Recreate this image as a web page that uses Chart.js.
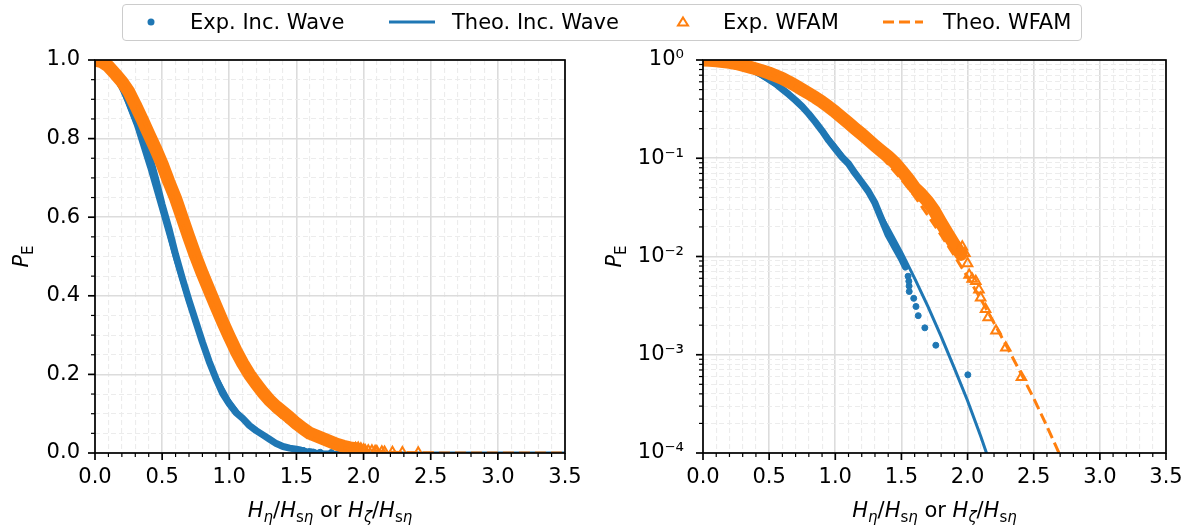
<!DOCTYPE html>
<html>
<head>
<meta charset="utf-8">
<script src="https://cdn.jsdelivr.net/npm/chart.js@4.4.1/dist/chart.umd.min.js"></script>
<style>
  body { margin: 0; background: #fff; width: 1198px; height: 529px; overflow: hidden; position: relative; font-family: 'DejaVu Sans', sans-serif; }
  #cl { position: absolute; left: 0; top: 0; }
  #cr { position: absolute; left: 595px; top: 0; }
  #legend { position: absolute; left: 122px; top: 4px; width: 958px; height: 35px; border: 1px solid #cccccc; border-radius: 4px; background: rgba(255,255,255,0.8); z-index: 2; }
  #legend span { position: absolute; top: 5px; line-height: 24px; font-size: 21px; color: #000; white-space: nowrap; }
  #legend svg { position: absolute; left: 0; top: 0; }
</style>
</head>
<body>
<div id="legend">
  <svg width="958" height="35">
    <circle cx="28" cy="17" r="3.5" fill="#1f77b4"/>
    <line x1="266" y1="17" x2="312" y2="17" stroke="#1f77b4" stroke-width="3"/>
    <polygon points="560,12.5 565,20.5 555,20.5" fill="none" stroke="#ff7f0e" stroke-width="2"/>
    <line x1="760" y1="17" x2="800" y2="17" stroke="#ff7f0e" stroke-width="3" stroke-dasharray="11,5"/>
  </svg>
  <span style="left:67px">Exp. Inc. Wave</span>
  <span style="left:329px">Theo. Inc. Wave</span>
  <span style="left:600px">Exp. WFAM</span>
  <span style="left:820px">Theo. WFAM</span>
</div>
<canvas id="cl" width="595" height="529"></canvas>
<canvas id="cr" width="603" height="529"></canvas>
<script>
// experimental incident wave (dense part) and its isolated tail points
var expIncX = [0, 0.05, 0.1, 0.15, 0.2, 0.25, 0.3, 0.35, 0.4, 0.45, 0.5, 0.55, 0.6, 0.65, 0.7, 0.75, 0.8, 0.85, 0.9, 0.95,
  1.0, 1.05, 1.1, 1.15, 1.2, 1.25, 1.3, 1.35, 1.4, 1.45, 1.5, 1.53];
var expIncP = [1.0, 0.997, 0.985, 0.962, 0.932, 0.895, 0.852, 0.81, 0.762, 0.70, 0.632, 0.572, 0.505, 0.445, 0.388, 0.335, 0.282, 0.233, 0.19, 0.152,
  0.125, 0.103, 0.088, 0.07, 0.057, 0.046, 0.035, 0.024, 0.0165, 0.0125, 0.0095, 0.0078];
var expIncTailX = [1.55, 1.556, 1.558, 1.559, 1.593, 1.61, 1.627, 1.677, 1.76, 2.002];
var expIncTailP = [0.0063, 0.0056, 0.0050, 0.0044, 0.00375, 0.0031, 0.0025, 0.00188, 0.00125, 0.000625];

// experimental WFAM
var expWfamX = [0, 0.05, 0.1, 0.15, 0.2, 0.25, 0.3, 0.35, 0.4, 0.45, 0.5, 0.55, 0.6, 0.65, 0.7, 0.75, 0.8, 0.85, 0.9, 0.95,
  1.0, 1.05, 1.1, 1.15, 1.2, 1.25, 1.3, 1.35, 1.4, 1.45, 1.5, 1.55, 1.6, 1.65, 1.7, 1.75, 1.8, 1.85, 1.9, 1.95];
var expWfamP = [1.0, 0.996, 0.984, 0.965, 0.945, 0.92, 0.886, 0.85, 0.812, 0.775, 0.735, 0.69, 0.648, 0.598, 0.548, 0.50, 0.456, 0.415, 0.374, 0.334,
  0.296, 0.26, 0.228, 0.2, 0.176, 0.154, 0.134, 0.118, 0.104, 0.09, 0.075, 0.062, 0.05, 0.043, 0.036, 0.029, 0.022, 0.017, 0.0132, 0.0105];
var expWfamTailX = [1.94, 1.96, 1.98, 2.0, 2.012, 2.035, 2.062, 2.086, 2.099, 2.136, 2.156, 2.215, 2.289, 2.407];
var expWfamTailP = [0.0118, 0.0126, 0.0108, 0.0085, 0.0065, 0.0059, 0.0056, 0.0046, 0.0038, 0.0029, 0.0024, 0.00176, 0.00118, 0.00059];

// theoretical curves
var theoIncX = [0, 0.1, 0.2, 0.3, 0.4, 0.5, 0.6, 0.7, 0.8, 0.9, 1.0, 1.1, 1.2, 1.3, 1.4, 1.5, 1.6, 1.7, 1.8, 1.9, 2.0, 2.1, 2.2, 2.4, 2.7, 3.0, 3.5];
var theoIncP = [1.0, 0.98, 0.923, 0.835, 0.726, 0.607, 0.487, 0.375, 0.278, 0.198, 0.135, 0.089, 0.056, 0.034, 0.0198, 0.0111, 0.006, 0.0031, 0.00154, 0.00073,
  0.00034, 0.000147, 0.00006, 0.00001, 0.0000005, 0.00000002, 0.0000000002];
var theoWfamX = [0, 0.1, 0.2, 0.3, 0.4, 0.5, 0.6, 0.7, 0.8, 0.9, 1.0, 1.1, 1.2, 1.3, 1.4, 1.5, 1.6, 1.7, 1.8, 1.9, 2.0, 2.1, 2.2, 2.3, 2.4, 2.5, 2.6, 2.7, 2.8, 3.0, 3.5];
var theoWfamP = [1.0, 0.987, 0.95, 0.892, 0.816, 0.728, 0.633, 0.537, 0.444, 0.358, 0.283, 0.218, 0.164, 0.121, 0.087, 0.061, 0.041, 0.0262, 0.0165, 0.0102,
  0.0062, 0.0037, 0.0021, 0.00119, 0.00066, 0.00036, 0.000187, 0.000094, 0.000047, 0.000011, 0.00000018];

// tick labels
var xTickLabels = ['0.0', '0.5', '1.0', '1.5', '2.0', '2.5', '3.0', '3.5'];
var yLinTickLabels = ['0.0', '0.2', '0.4', '0.6', '0.8', '1.0'];
var yLogTickLabels = ['10\u207B\u2074', '10\u207B\u00B3', '10\u207B\u00B2', '10\u207B\u00B9', '10\u2070'];

var BLUE = '#1f77b4';
var ORANGE = '#ff7f0e';
var FONT = "'DejaVu Sans'";

function pts(xs, ys) {
  return xs.map(function (x, i) { return { x: x, y: ys[i] }; });
}
function isMult(v, step) {
  return Math.abs(v / step - Math.round(v / step)) < 1e-6;
}
function isMajorX(v) { return isMult(v, 0.5); }
function isMajorLin(v) { return isMult(v, 0.2); }
function isMajorLog(v) { var l = Math.log10(v); return Math.abs(l - Math.round(l)) < 1e-6; }

// draws text made of pieces (italic letters, subscripts), centred on cx, cy
function drawRich(ctx, parts, cx, cy, rotate) {
  ctx.save();
  ctx.translate(cx, cy);
  if (rotate) ctx.rotate(-Math.PI / 2);
  var total = 0;
  parts.forEach(function (p) { ctx.font = p[1]; total += ctx.measureText(p[0]).width; });
  var x = -total / 2;
  ctx.fillStyle = '#000';
  ctx.textBaseline = 'alphabetic';
  ctx.textAlign = 'left';
  parts.forEach(function (p) {
    ctx.font = p[1];
    ctx.fillText(p[0], x, p[2] + 7);
    x += ctx.measureText(p[0]).width;
  });
  ctx.restore();
}

var IT = 'italic 21px ' + FONT, RM = '21px ' + FONT, SUBI = 'italic 15px ' + FONT, SUB = '15px ' + FONT;
var xTitle = [['H', IT, 0], ['\u03B7', SUBI, 5], ['/', RM, 0], ['H', IT, 0], ['s', SUB, 5], ['\u03B7', SUBI, 5],
  [' or ', RM, 0], ['H', IT, 0], ['\u03B6', SUBI, 5], ['/', RM, 0], ['H', IT, 0], ['s', SUB, 5], ['\u03B7', SUBI, 5]];
var yTitle = [['P', IT, 0], ['E', SUB, 5]];

function makeDecor(isMajorY, yTitleX) {
  return {
    id: 'decor',
    afterDatasetsDraw: function (chart) {
      var ctx = chart.ctx, a = chart.chartArea, xs = chart.scales.x, ys = chart.scales.y;
      ctx.save();
      ctx.strokeStyle = '#000';
      xs.ticks.forEach(function (t) {
        var px = xs.getPixelForValue(t.value), m = isMajorX(t.value);
        ctx.lineWidth = m ? 1.7 : 1.2;
        ctx.beginPath(); ctx.moveTo(px, a.bottom); ctx.lineTo(px, a.bottom + (m ? 7 : 4)); ctx.stroke();
      });
      ys.ticks.forEach(function (t) {
        var py = ys.getPixelForValue(t.value), m = isMajorY(t.value);
        ctx.lineWidth = m ? 1.7 : 1.2;
        ctx.beginPath(); ctx.moveTo(a.left, py); ctx.lineTo(a.left - (m ? 7 : 4), py); ctx.stroke();
      });
      ctx.lineWidth = 1.7;
      ctx.strokeRect(a.left, a.top, a.right - a.left, a.bottom - a.top);
      ctx.restore();
      drawRich(ctx, xTitle, (a.left + a.right) / 2, 510, false);
      drawRich(ctx, yTitle, yTitleX, (a.top + a.bottom) / 2, true);
    }
  };
}

function datasets() {
  return [
    { label: 'Theo. WFAM', data: pts(theoWfamX, theoWfamP), showLine: true, borderColor: ORANGE, borderWidth: 3,
      borderDash: [11, 5], pointRadius: 0, order: 0 },
    { label: 'Exp. WFAM', data: pts(expWfamTailX, expWfamTailP), showLine: false, pointStyle: 'triangle', pointRadius: 5.5,
      borderColor: ORANGE, backgroundColor: 'rgba(0,0,0,0)', pointBorderWidth: 2, order: 1, clip: 0 },
    { label: 'Exp. WFAM', data: pts(expWfamX, expWfamP), showLine: true, borderColor: ORANGE, borderWidth: 13,
      borderJoinStyle: 'round', borderCapStyle: 'round', pointRadius: 0, order: 2, clip: 0 },
    { label: 'Theo. Inc. Wave', data: pts(theoIncX, theoIncP), showLine: true, borderColor: BLUE, borderWidth: 3,
      pointRadius: 0, order: 3 },
    { label: 'Exp. Inc. Wave', data: pts(expIncTailX, expIncTailP), showLine: false, pointStyle: 'circle', pointRadius: 3,
      borderColor: BLUE, backgroundColor: BLUE, pointBorderWidth: 1, order: 4, clip: 0 },
    { label: 'Exp. Inc. Wave', data: pts(expIncX, expIncP), showLine: true, borderColor: BLUE, borderWidth: 7,
      borderJoinStyle: 'round', borderCapStyle: 'round', pointRadius: 0, order: 5, clip: 0 }
  ];
}

function gridOpts(isMajor) {
  return {
    grid: {
      drawTicks: false,
      color: function (c) { return isMajor(c.tick.value) ? '#dcdcdc' : '#ececec'; },
      lineWidth: function (c) { return isMajor(c.tick.value) ? 1.6 : 1.1; }
    },
    border: {
      display: false,
      dash: function (c) { return isMajor(c.tick.value) ? [] : [5, 3]; }
    }
  };
}

function xScale() {
  var g = gridOpts(isMajorX);
  return {
    type: 'linear', min: 0, max: 3.5,
    grid: g.grid, border: g.border,
    afterFit: function (s) { s.height = 76; },
    ticks: {
      stepSize: 0.1, autoSkip: false, maxRotation: 0, padding: 12, color: '#000',
      font: { family: FONT, size: 21 },
      callback: function (v) { return isMajorX(v) ? xTickLabels[Math.round(v / 0.5)] : ''; }
    }
  };
}

var yLin = (function () {
  var g = gridOpts(isMajorLin);
  return {
    type: 'linear', min: 0, max: 1,
    grid: g.grid, border: g.border,
    afterFit: function (s) { s.width = 95; },
    ticks: {
      stepSize: 0.05, autoSkip: false, padding: 15, color: '#000',
      font: { family: FONT, size: 21 },
      callback: function (v) { return isMajorLin(v) ? yLinTickLabels[Math.round(v / 0.2)] : ''; }
    }
  };
})();

var yLog = (function () {
  var g = gridOpts(isMajorLog);
  return {
    type: 'logarithmic', min: 1e-4, max: 1,
    grid: g.grid, border: g.border,
    afterFit: function (s) { s.width = 108; },
    afterBuildTicks: function (s) {
      var t = [];
      for (var e = -4; e <= 0; e++) {
        for (var m = 1; m <= 9; m++) {
          if (e === 0 && m > 1) break;
          t.push({ value: parseFloat((m * Math.pow(10, e)).toPrecision(6)) });
        }
      }
      s.ticks = t;
    },
    ticks: {
      autoSkip: false, padding: 19, color: '#000',
      font: { family: FONT, size: 21 },
      callback: function (v) { return isMajorLog(v) ? yLogTickLabels[Math.round(Math.log10(v)) + 4] : ''; }
    }
  };
})();

function makeChart(id, yOpts, isMajorY, padRight, yTitleX) {
  return new Chart(document.getElementById(id).getContext('2d'), {
    type: 'scatter',
    data: { datasets: datasets() },
    options: {
      responsive: false,
      animation: false,
      devicePixelRatio: 1,
      events: [],
      layout: { padding: { left: 0, top: 60, right: padRight, bottom: 0 } },
      scales: { x: xScale(), y: yOpts },
      plugins: { legend: { display: false }, tooltip: { enabled: false } }
    },
    plugins: [makeDecor(isMajorY, yTitleX)]
  });
}

var leftChart = makeChart('cl', yLin, isMajorLin, 30, 21);
var rightChart = makeChart('cr', yLog, isMajorLog, 32, 19);
</script>
</body>
</html>
